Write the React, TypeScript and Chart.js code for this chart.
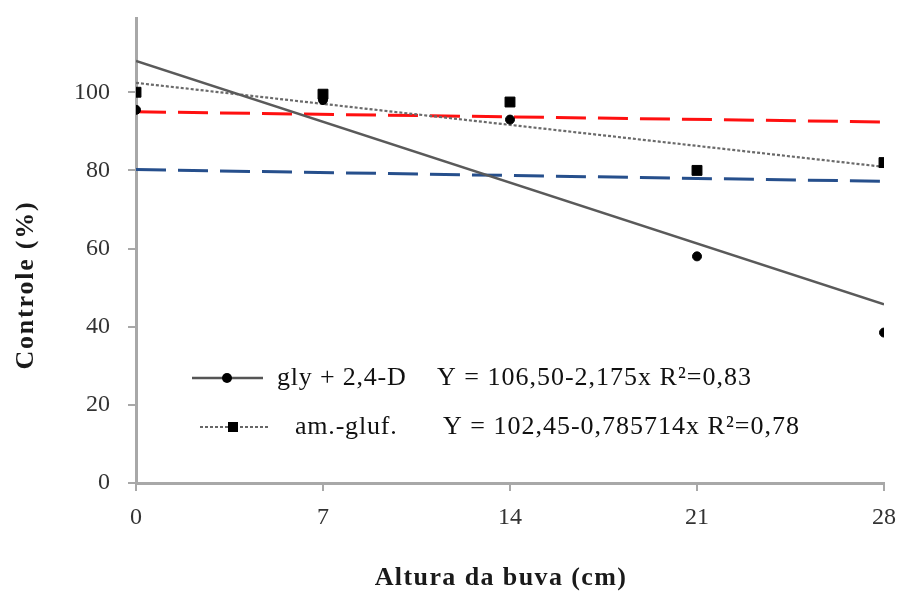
import React, { useEffect, useRef } from "react";
import { Chart, registerables } from "chart.js";
Chart.register(...registerables);

// ---- data ----
const heights = [0, 7, 14, 21, 28];
const glyValues = [95.5, 98, 93, 58, 38.5];
const amGlufValues = [100, 99.5, 97.5, 80, 82];
const trendX = [0, 28];
const glyTrend = [108, 45.7];
const amGlufTrend = [102.4, 80.9];
const redRef = [95, 92.4];
const blueRef = [80.2, 77.2];
const xTickValues = [0, 7, 14, 21, 28];
const yTickValues = [0, 20, 40, 60, 80, 100];
const legendLabels = ["gly + 2,4-D", "am.-gluf."];
const legendEquations = ["Y = 106,50-2,175x R\u00B2=0,83", "Y = 102,45-0,785714x R\u00B2=0,78"];
const xTitle = "Altura da buva (cm)";
const yTitle = "Controle (%)";

const AXIS = "#a8a8a8";
const FONT = "'Liberation Serif', 'Times New Roman', serif";

const pts = (xs: number[], ys: number[]) => xs.map((x, i) => ({ x, y: ys[i] }));

const overlayPlugin = {
  id: "overlay",
  afterDraw(chart: any) {
    const ctx = chart.ctx as CanvasRenderingContext2D;
    const a = chart.chartArea;
    ctx.save();
    // legend
    const rows = [
      { y: a.top + 360, x0: a.left + 56, x1: a.left + 127, mx: a.left + 91, tx: a.left + 141, ex: a.left + 301 },
      { y: a.top + 409, x0: a.left + 64, x1: a.left + 132, mx: a.left + 97, tx: a.left + 159, ex: a.left + 307 },
    ];
    rows.forEach((r, i) => {
      ctx.beginPath();
      ctx.strokeStyle = i === 0 ? "#555555" : "#666666";
      ctx.lineWidth = i === 0 ? 2.5 : 2;
      ctx.setLineDash(i === 0 ? [] : [3, 2]);
      ctx.moveTo(r.x0, r.y);
      ctx.lineTo(r.x1, r.y);
      ctx.stroke();
      ctx.setLineDash([]);
      ctx.fillStyle = "#000";
      ctx.beginPath();
      if (i === 0) {
        ctx.arc(r.mx, r.y, 5, 0, Math.PI * 2);
      } else {
        ctx.rect(r.mx - 5, r.y - 5, 10, 10);
      }
      ctx.fill();
      ctx.fillStyle = "#111";
      ctx.font = `26px ${FONT}`;
      ctx.textBaseline = "middle";
      ctx.textAlign = "left";
      (ctx as any).letterSpacing = "0.8px";
      ctx.fillText(legendLabels[i], r.tx, r.y);
      (ctx as any).letterSpacing = "1px";
      ctx.fillText(legendEquations[i], r.ex, r.y);
    });
    // axis titles
    ctx.fillStyle = "#1a1a1a";
    ctx.font = `bold 26px ${FONT}`;
    (ctx as any).letterSpacing = "1.4px";
    ctx.textAlign = "center";
    ctx.textBaseline = "middle";
    ctx.fillText(xTitle, (a.left + a.right) / 2 - 9, 578);
    ctx.translate(26, 285);
    ctx.rotate(-Math.PI / 2);
    (ctx as any).letterSpacing = "1.8px";
    ctx.fillText(yTitle, 0, 0);
    (ctx as any).letterSpacing = "0px";
    ctx.restore();
  },
};

export default function App() {
  const ref = useRef<HTMLCanvasElement>(null);
  useEffect(() => {
    if (!ref.current) return;
    const chart = new Chart(ref.current, {
      type: "scatter",
      data: {
        datasets: [
          {
            label: "gly + 2,4-D",
            data: pts(heights, glyValues),
            pointStyle: "circle",
            pointRadius: 4.5,
            backgroundColor: "#000",
            borderColor: "#000",
            showLine: false,
            order: 0,
          },
          {
            label: "am.-gluf.",
            data: pts(heights, amGlufValues),
            pointStyle: "rect",
            pointRadius: 7,
            backgroundColor: "#000",
            borderColor: "#000",
            showLine: false,
            order: 0,
          },
          {
            label: "trend gly",
            data: pts(trendX, glyTrend),
            showLine: true,
            borderColor: "#5a5a5a",
            borderWidth: 2.5,
            pointRadius: 0,
            order: 2,
          },
          {
            label: "trend am-gluf",
            data: pts(trendX, amGlufTrend),
            showLine: true,
            borderColor: "#6a6a6a",
            borderWidth: 2.2,
            borderDash: [3, 2],
            pointRadius: 0,
            order: 3,
          },
          {
            label: "red",
            data: pts(trendX, redRef),
            showLine: true,
            borderColor: "#ff1010",
            borderWidth: 3,
            borderDash: [30, 12],
            pointRadius: 0,
            order: 4,
          },
          {
            label: "blue",
            data: pts(trendX, blueRef),
            showLine: true,
            borderColor: "#264f8c",
            borderWidth: 3,
            borderDash: [30, 12],
            pointRadius: 0,
            order: 5,
          },
        ],
      },
      options: {
        animation: false,
        responsive: false,
        layout: { padding: { top: 18, right: 18, left: 0, bottom: 0 } },
        plugins: { legend: { display: false }, tooltip: { enabled: false } },
        scales: {
          x: {
            type: "linear",
            min: 0,
            max: 28,
            afterFit: (s: any) => { s.height = 110; s.paddingLeft = 0; s.paddingRight = 0; },
            afterBuildTicks: (s: any) => { s.ticks = xTickValues.map((v) => ({ value: v })); },
            grid: { drawOnChartArea: false, drawTicks: true, tickLength: 8, color: AXIS, lineWidth: 2 },
            border: { color: AXIS, width: 3 },
            ticks: { color: "#333", font: { family: FONT, size: 24 }, padding: 12 },
          },
          y: {
            min: 0,
            max: 119,
            afterFit: (s: any) => { s.width = 136; s.paddingTop = 0; s.paddingBottom = 0; },
            afterBuildTicks: (s: any) => { s.ticks = yTickValues.map((v) => ({ value: v })); },
            grid: { drawOnChartArea: false, drawTicks: true, tickLength: 8, color: AXIS, lineWidth: 2 },
            border: { color: AXIS, width: 3 },
            ticks: { color: "#333", font: { family: FONT, size: 24 }, padding: 18 },
          },
        },
      },
      plugins: [overlayPlugin],
    } as any);
    return () => chart.destroy();
  }, []);
  return (
    <div style={{ position: "absolute", left: 0, top: 0, width: 902, height: 593, background: "#fff" }}>
      <canvas ref={ref} width={902} height={593} />
    </div>
  );
}
